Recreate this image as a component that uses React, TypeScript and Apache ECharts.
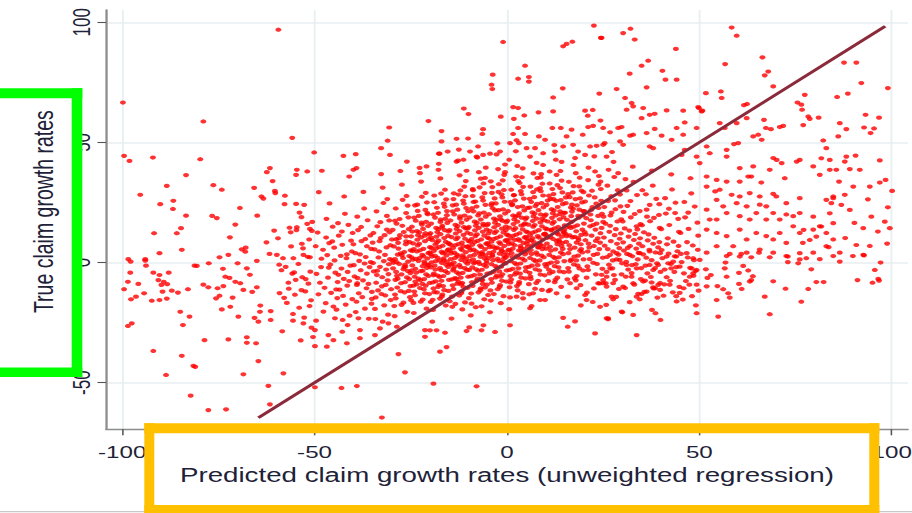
import React, { useEffect, useRef } from "react";
import * as echarts from "echarts";

// ---------- axis / text content ----------
const xTicks = [-100, -50, 0, 50, 100];
const yTicks = [-50, 0, 50, 100];
const xTitle = "Predicted claim growth rates (unweighted regression)";
const yTitle = "True claim growth rates";
const xRange = [-104.2, 104.2];
const yRange = [-69.4, 105.1];

// 45-degree reference line (y = x)
const fitLine = [
  [-64.6, -64.6],
  [98.3, 98.3],
];

// ---------- scatter points (read / estimated from the picture) ----------
const ptsUpperLeft = [
  [-59.4,96.9],[-99.8,66.6],[-78.9,58.7],[-55.8,51.9],[-99.5,44.4],[-98.1,42.3],[-92.0,43.7],[-79.7,43.0],[-50.1,45.8],[-61.6,39.3],[-62.4,37.6],[-54.6,38.6],[-51.9,37.9],[-54.8,36.5],[-83.4,36.4],[-60.9,33.9],[-76.3,32.2],[-74.1,30.3],[-88.4,31.9],[-65.7,31.1],[-60.3,29.8],[-60.2,28.9],[-95.3,28.2],[-63.8,27.5],[-57.7,27.8],[-90.1,24.3],[-86.7,25.7],[-86.8,22.3],[-54.8,24.4],[-52.7,24.0],[-83.4,19.5],[-76.6,19.4],[-75.4,18.5],[-64.9,19.5],[-53.4,18.9],[-70.6,15.8],[-56.5,14.5],[-54.6,14.7],[-56.2,12.6],[-51.9,16.1],[-51.2,14.0],[-50.7,13.2],[-91.7,12.2],[-85.8,12.2],[-84.7,14.3],[-72.0,10.5],[-60.5,13.3],[-53.3,7.8],[-90.3,3.9],[-84.5,5.3],[-68.9,5.5],[-68.0,4.5],[-61.7,3.6],[-59.8,3.2],[-74.7,2.2],[-72.4,3.2],[-52.9,3.2],[-51.2,2.2],[-55.5,1.8],[-94.0,1.4],[-98.4,1.4]
];

const ptsLowerLeft = [
  [-97.8,0.4],[-94.0,0.8],[-93.8,-1.3],[-97.9,-4.2],[-91.9,-4.2],[-90.3,-5.2],[-87.9,-4.2],[-98.5,-8.0],[-95.8,-8.9],[-99.5,-11.1],[-90.6,-7.3],[-89.2,-8.0],[-88.3,-9.0],[-89.8,-9.3],[-89.5,-12.1],[-87.1,-11.7],[-85.5,-12.5],[-94.3,-12.8],[-96.4,-14.2],[-97.7,-15.3],[-92.3,-15.9],[-90.3,-15.6],[-88.4,-15.0],[-82.9,-11.1],[-81.2,-1.3],[-80.6,-1.4],[-77.5,-0.3],[-78.9,-9.2],[-77.6,-10.3],[-75.2,-10.7],[-73.7,-9.8],[-74.7,-13.8],[-75.6,-14.9],[-74.1,-19.5],[-71.9,-18.4],[-84.9,-20.5],[-82.5,-22.5],[-84.2,-26.0],[-98.5,-26.4],[-97.5,-25.3],[-73.2,-5.9],[-72.1,-6.4],[-70.6,-8.0],[-69.3,-8.6],[-70.0,-0.3],[-67.6,-2.4],[-65.0,0.7],[-68.5,-11.4],[-66.2,-12.2],[-65.0,-10.3],[-69.8,-22.5],[-65.6,-23.0],[-64.6,-24.6],[-64.2,-20.5],[-61.4,-20.2],[-61.4,-23.9],[-78.6,-32.3],[-72.4,-32.0],[-67.6,-31.1],[-67.6,-33.4],[-65.2,-33.6],[-91.9,-36.8],[-84.5,-38.8],[-81.5,-43.0],[-81.0,-43.4],[-64.6,-41.0],[-88.6,-46.8],[-68.5,-46.5],[-58.1,-46.1],[-82.2,-55.4],[-77.6,-61.4],[-73.0,-61.1],[-62.0,-51.3],[-61.6,-59.0],
  [-59.2,-0.9],[-57.5,-1.8],[-55.8,-4.6],[-54.9,-7.2],[-53.2,-6.1],[-51.6,-8.8],[-56.7,-10.9],[-55.1,-13.4],[-52.4,-12.0],[-57.9,-14.7],[-54.0,-18.8],[-51.3,-18.1],[-55.6,-24.2],[-52.7,-22.9],[-50.8,-27.1],[-58.4,-28.6],[-53.6,-32.4],[-50.4,-31.0],
  [-58.6,-3.2],[-56.1,6.7],[-53.4,-11.5],[-51.8,2.4],[-57.2,-16.8],[-54.7,13.5],[-52.3,-6.9],[-59.5,10.1],[-55.6,-21.4],[-50.9,-15.7],[-53.9,20.8],[-57.8,24.3],[-51.4,9.6],[-56.8,-8.4],[-52.9,-25.3],[-58.2,1.8],[-54.2,-0.6],[-50.6,16.9],[-55.3,-4.1],[-59.1,-12.7],[-53.0,5.9],[-51.1,-3.8],
  [-71.3,-14.6],[-66.8,-5.1],[-62.5,8.4],[-69.4,22.7],[-73.8,-2.6],[-64.1,-17.9],[-67.9,6.2],[-63.3,26.6]
];

const ptsUpperMiddle = [
  [-1.0,91.8],[-3.7,78.2],[-4.0,74.0],[-3.8,72.2],[4.7,81.9],[2.9,76.5],[5.7,77.2],[5.7,75.3],[14.6,90.0],[15.5,91.0],[17.0,91.9],[22.6,98.6],[24.4,93.5],[14.5,72.5],[24.0,70.3],[12.0,68.7],[1.6,64.7],[2.9,64.3],[-11.2,64.1],[-10.0,61.8],[-1.6,60.7],[1.8,59.8],[4.5,61.2],[8.2,62.5],[12.0,62.9],[20.3,63.2],[22.3,63.5],[21.0,61.1],[-20.4,58.9],[-30.6,56.2],[-31.0,50.7],[-32.7,47.6],[-17.0,54.7],[-17.0,50.4],[-13.1,51.5],[-10.1,51.6],[-6.2,55.5],[-6.4,53.5],[2.9,56.0],[1.6,53.5],[4.7,53.5],[8.3,52.5],[9.9,51.1],[11.8,56.0],[14.0,56.0],[15.5,52.5],[16.8,55.3],[19.7,53.2],[21.1,56.4],[22.4,56.9],[24.3,59.1],[-48.1,38.2],[-42.5,44.4],[-39.3,45.1],[-39.9,38.6],[-39.1,39.3],[-41.0,35.8],[-30.4,44.8],[-26.0,42.0],[-20.9,40.0],[-22.6,37.2],[-17.8,38.6],[-15.4,46.2],[-17.7,45.3],[-13.1,42.0],[-11.3,42.8],[-7.9,44.1],[-6.2,44.8],[-4.4,45.3],[-9.6,46.2],[-1.8,46.2],[0.8,49.7],[3.1,49.7],[0.6,42.8],[5.1,47.6],[6.0,44.1],[9.4,45.5],[12.5,46.2],[14.6,48.3],[17.2,49.0],[18.5,46.2],[20.3,44.8],[21.6,48.3],[23.3,48.6],[25.0,49.0],[25.9,44.1]
];

const ptsLowerMiddle = [
  [-32.5,-64.5],[-19.1,-50.4],[-7.9,-51.5],[-49.9,-51.9],[-43.0,-52.2],[-39.0,-51.4],[-26.5,-45.7],[-28.2,-38.1],[-17.4,-37.1],[-15.7,-35.2],[22.9,-29.5],[0.8,-26.1],[-3.1,-28.9],[-6.6,-28.2],[-6.1,-26.1],[-10.5,-28.5],[-9.8,-27.0],[-21.3,-28.1],[-20.0,-28.2],[-18.3,-28.2],[-16.1,-29.2],[-21.3,-30.9],[14.6,-23.0],[17.7,-24.5],[15.8,-26.7],[26.3,-23.2],[-49.9,-28.1],[-49.6,-24.2],[-46.4,-30.2],[-46.8,-35.0],[-49.9,-34.8],[-45.1,-32.3],[-42.8,-28.8],[-41.6,-33.6],[-38.2,-31.5],[-38.2,-28.1],[-41.4,-26.0],[-38.6,-23.2],[-42.7,-23.9],[-44.7,-23.2],[-33.0,-27.4],[-32.3,-24.6],[-30.8,-25.3],[-28.6,-26.7],[-34.3,-30.2],[2.5,-14.2],[4.2,-14.9],[6.8,-12.8],[8.6,-15.6],[9.9,-15.6],[6.0,-19.0],[6.4,-18.1],[11.2,-11.4],[12.9,-12.8],[16.4,-8.6],[18.1,-10.7],[20.3,-13.5],[20.7,-15.6],[24.2,-18.4],[23.7,-8.6],[25.0,-7.3],[25.9,-10.0]
];

const ptsUpperRight = [
  [58.4,97.8],[59.7,94.4],[30.2,95.5],[32.1,97.3],[33.2,92.8],[24.6,93.5],[43.9,88.9],[36.7,84.0],[35.0,81.9],[31.9,78.6],[40.4,79.8],[41.2,76.1],[44.1,76.1],[56.7,82.6],[66.4,85.4],[67.9,79.5],[67.0,77.9],[69.2,73.3],[87.6,83.2],[90.8,83.2],[92.1,74.7],[99.0,72.6],[85.8,68.9],[88.6,70.3],[77.4,69.8],[75.5,66.6],[76.5,65.7],[76.7,63.6],[78.3,60.8],[78.7,59.8],[81.0,60.3],[77.0,57.2],[86.5,58.0],[88.2,55.5],[93.2,61.5],[96.7,60.3],[92.8,56.2],[95.4,55.8],[94.5,53.9],[82.2,50.8],[83.0,47.6],[86.1,52.5],[81.7,43.4],[83.9,42.7],[79.6,40.0],[81.3,36.5],[83.9,38.6],[85.6,38.6],[86.3,33.7],[87.8,42.0],[88.2,44.1],[90.6,44.5],[89.1,38.9],[91.7,38.6],[96.9,42.5],[94.3,31.6],[96.9,33.3],[98.4,34.4],[100.1,29.8],[90.0,31.6],[87.8,28.2],[84.8,26.8],[84.3,24.7],[86.9,24.0],[89.1,21.9],[94.7,19.1],[98.2,17.0],[99.5,14.3],[99.0,23.0],[92.6,14.3],[90.8,7.3],[92.6,3.2],[94.3,6.9],[84.8,16.4],[81.7,15.0],[83.9,20.5],[79.6,19.1],[77.1,13.6],[78.7,9.4],[76.1,3.9],[80.4,10.8],
  [51.7,70.5],[55.6,71.2],[55.8,68.5],[49.9,64.3],[50.8,63.2],[61.6,65.5],[62.4,66.0],[56.6,56.0],[55.3,58.0],[59.7,58.0],[66.8,59.4],[67.3,56.0],[68.6,55.5],[70.9,56.4],[71.8,56.9],[62.3,60.1],[64.0,52.5],[65.3,53.2],[66.2,51.1],[59.0,49.3],[60.1,49.7],[57.1,46.9],[51.9,48.3],[52.7,45.5],[57.1,44.1],[60.5,39.3],[64.0,40.0],[69.2,43.5],[71.4,41.4],[70.1,42.7],[75.3,42.0],[76.1,42.7],[68.3,38.6],[72.2,35.1],
  [51.9,35.8],[54.5,34.4],[57.1,33.7],[60.5,33.7],[62.7,35.8],[63.5,35.8],[66.1,33.3],[51.9,31.6],[54.1,29.6],[55.3,30.3],[58.4,28.2],[60.5,27.5],[63.1,28.9],[65.7,27.5],[69.2,28.6],[70.0,27.5],[72.6,24.7],[76.1,26.8],[83.0,26.1],[84.8,27.5],[54.5,26.1],[56.2,23.4],[59.7,24.7],[62.3,23.4],[65.7,24.1],[67.4,23.4],[69.2,20.6],[72.6,20.0],[74.4,19.3],[76.1,20.6],[51.9,22.0],[52.7,17.9],[54.5,17.9],[57.1,20.6],[60.5,19.3],[63.1,17.9],[64.8,20.6],[67.4,17.9],[70.9,17.9],[74.4,15.1],[76.1,12.3],[79.6,13.7],[81.3,15.1],[83.0,12.3],[84.8,9.6],[51.9,13.7],[54.5,12.3],[57.1,11.0],[60.5,13.7],[62.3,9.6],[64.8,12.3],[67.4,11.0],[69.2,9.6],[70.9,12.3],[72.6,8.2],[76.9,8.2],[79.6,4.1],[83.0,6.8],[54.5,6.8],[58.8,6.8],[62.3,4.1],[65.7,5.4],[69.2,4.1],[72.6,2.7],[51.9,4.1],[57.1,2.7],[76.1,1.3],[84.8,2.7],[86.5,4.1],
  [28.5,72.2],[30.7,68.5],[32.4,66.4],[32.8,65.0],[36.3,72.9],[31.1,63.6],[35.4,64.3],[35.0,60.1],[37.1,61.5],[38.4,61.9],[41.5,63.3],[45.8,63.2],[49.7,64.7],[50.6,62.9],[28.9,56.0],[29.8,56.4],[32.0,52.8],[32.8,53.2],[36.3,53.9],[38.4,55.6],[40.2,52.8],[42.8,51.1],[44.1,56.0],[46.2,58.3],[45.8,53.2],[49.3,56.0],[25.0,56.0],[26.8,54.2],[25.4,49.7],[29.4,50.4],[30.2,49.0],[37.1,48.3],[38.0,47.6],[45.4,44.8],[46.2,46.9],[49.3,44.1],[50.1,41.4]
];

const ptsLowerRight = [
  [25.9,-23.2],[30.0,-20.7],[32.8,-21.8],[33.7,-30.2],[37.7,-19.7],[38.6,-21.1],[39.9,-23.9],[49.3,-21.1],[54.9,-22.5],[68.3,-21.5],[76.5,-16.3],[67.0,-14.2],[54.5,-15.6],[57.5,-12.8],[56.2,-11.1],[61.0,-11.0],[51.9,-9.9],[49.3,-9.2],[63.1,-7.9],[60.3,-8.9],[78.3,-11.0],[80.4,-8.1],[82.3,-8.1],[91.1,-7.3],[95.0,-8.4],[96.5,-6.8],[96.7,-7.5],[89.9,2.7],[92.8,3.0],[97.1,0.0],[86.5,0.4],[79.1,-2.8],[81.3,1.4],[77.8,1.8],[75.7,-0.3],[73.0,2.5],[73.0,0.2],[68.3,2.2],[65.5,4.1],[63.5,2.2],[60.5,2.5],[61.4,-1.4],[62.7,-3.3],[60.3,-4.3],[63.5,-7.3],[56.6,-2.4],[57.1,-5.9],[53.0,-5.2],[51.7,-2.8],[57.9,3.6],[56.8,0.0],
  [26.3,-23.6],[27.6,-15.3],[27.2,-14.2],[29.8,-20.4],[33.7,-14.2],[35.0,-13.1],[36.3,-12.1],[34.5,-15.3],[38.5,-10.7],[39.3,-9.3],[39.8,-11.4],[35.4,-7.9],[37.6,-8.3],[38.0,-10.3],[42.3,-9.2],[44.9,-12.6],[44.0,-14.0],[47.5,-5.9],[48.4,-4.5],[48.0,-2.4],[49.3,-3.1],[44.9,-1.7],[42.7,-2.4],[43.2,0.4],[44.0,2.5],[41.9,-0.3],[41.5,2.5],[37.1,-1.0],[38.0,-3.1],[39.3,-1.0],[33.7,-2.4],[32.4,-5.9],[31.1,-1.0],[29.3,1.1],[26.8,-2.4],[25.9,-5.9],[25.0,-8.6],[27.6,-8.6],[30.2,-10.0],[32.8,-8.6],[26.8,3.2],[28.5,3.9],[31.9,3.2],[34.5,3.9],[37.1,4.6],[39.8,3.9],[46.7,3.9],[48.4,1.8],[50.1,1.1],
  [52.1,-6.4],[54.7,-9.8],[57.9,-14.6],[60.9,3.6],[63.9,-5.7],[69.2,-7.8],[72.4,-10.9],[83.6,6.4],[87.9,10.2],[90.3,16.5],[93.8,26.3],[96.4,12.9],[98.8,7.9],[95.6,-3.1]
];

// dense core (estimated)
const coreWest = [
  [-49.2,12.5],[-47.8,5.3],[-46.3,-2.1],[-48.6,-8.4],[-45.7,-12.6],[-47.1,-16.9],[-49.5,-4.7],[-46.9,18.2],[-45.4,8.8],[-48.2,1.6],[-46.5,-6.3],[-47.7,-20.4],[-45.9,-0.8],[-49.0,-13.2],[-46.1,24.6],[-48.9,29.3],[-45.3,14.9],[-47.4,-10.5],[-49.7,6.8],[-46.7,3.1],[-45.1,-18.3],[-48.3,-1.9],[-47.0,10.4],
  [-44.6,-4.2],[-43.2,2.8],[-41.5,-9.6],[-42.8,7.4],[-40.7,-1.3],[-44.1,-14.8],[-43.7,11.2],[-41.9,-17.5],[-40.3,4.6],[-42.4,-6.8],[-44.8,0.9],[-41.2,15.7],[-43.5,-11.3],[-40.9,-22.1],[-42.1,20.3],[-44.3,-19.6],[-41.7,1.8],[-43.0,-2.5],[-40.5,9.1],[-42.6,-13.9],[-44.9,6.2],[-41.0,-7.7],[-43.9,16.4],[-40.2,-15.2],[-42.3,27.5],[-41.4,-3.9],[-44.0,-8.1],[-42.9,12.9],
  [-39.6,-5.8],[-38.2,3.4],[-36.5,-10.7],[-37.8,8.9],[-35.4,0.2],[-39.1,-16.3],[-38.7,13.5],[-36.9,-19.2],[-35.3,5.7],[-37.4,-7.4],[-39.8,-1.1],[-36.2,17.6],[-38.5,-12.8],[-35.9,-23.4],[-37.1,22.5],[-39.3,-20.6],[-36.7,2.3],[-38.0,-3.2],[-35.5,11.3],[-37.6,-14.4],[-39.9,7.6],[-36.0,-8.9],[-38.9,19.1],[-35.2,-17.1],[-37.3,29.4],[-36.4,-4.6],[-39.0,-9.3],[-37.9,14.8],[-35.7,-1.9],[-38.4,0.7],[-36.8,9.8],[-39.4,3.9],[-35.1,-12.2],[-37.0,-0.4],[-38.8,-6.5],
  [-34.6,-3.7],[-33.2,4.6],[-31.5,-9.3],[-32.8,10.2],[-30.4,1.4],[-34.1,-14.5],[-33.7,15.1],[-31.9,-17.8],[-30.3,7.2],[-32.4,-6.1],[-34.8,-0.2],[-31.2,19.4],[-33.5,-11.6],[-30.9,-21.7],[-32.1,24.8],[-34.3,-19.3],[-31.7,3.2],[-33.0,-1.8],[-30.5,12.6],[-32.6,-13.1],[-34.9,8.3],[-31.0,-7.4],[-33.9,21.3],[-30.2,-15.6],[-32.3,31.2],[-31.4,-2.9],[-34.0,-8.4],[-32.9,16.8],[-30.7,-0.7],[-33.4,2.1],[-31.8,11.4],[-34.4,5.5],[-30.1,-11.1],[-32.0,0.6],[-33.8,-5.2],[-31.3,6.3],[-30.8,-4.8],[-34.7,12.3],[-32.5,-9.9],[-33.1,8.9],[-31.6,-13.7],[-30.6,17.5],[-34.2,-23.5],[-32.7,36.8],[-31.1,26.4]
];

const coreWestMid = [
  [-29.6,-2.4],[-28.2,5.8],[-26.5,-8.2],[-27.8,11.4],[-25.4,2.7],[-29.1,-13.3],[-28.7,16.2],[-26.9,-16.7],[-25.3,8.5],[-27.4,-4.9],[-29.8,0.9],[-26.2,20.6],[-28.5,-10.4],[-25.9,-20.5],[-27.1,26.1],[-29.3,-18.1],[-26.7,4.4],[-28.0,-0.6],[-25.5,13.9],[-27.6,-11.9],[-29.9,9.6],[-26.0,-6.2],[-28.9,22.5],[-25.2,-14.4],[-27.3,32.4],[-26.4,-1.7],[-29.0,-7.2],[-27.9,18.1],[-25.7,0.4],[-28.4,3.3],[-26.8,12.7],[-29.4,6.7],[-25.1,-9.8],[-27.0,1.9],[-28.8,-3.9],[-26.3,7.6],[-25.8,-3.5],[-29.7,13.6],[-27.5,-8.6],[-28.1,10.1],[-26.6,-12.4],[-25.6,18.8],[-29.2,-22.3],[-27.7,38.1],[-26.1,27.7],[-28.6,-5.5],[-25.0,5.1],[-27.2,15.3],[-29.5,-0.1],[-26.9,-2.8],[-28.3,8.2],[-25.4,-6.9],[-27.6,3.8],[-28.9,-14.9],[-26.2,10.9],[-25.8,23.7],[-29.1,17.4],[-27.4,-17.6],[-28.7,0.2],[-26.5,-0.9],
  [-24.6,-1.2],[-23.2,7.1],[-21.5,-6.9],[-22.8,12.6],[-20.4,3.9],[-24.1,-12.1],[-23.7,17.4],[-21.9,-15.4],[-20.3,9.8],[-22.4,-3.6],[-24.8,2.2],[-21.2,21.9],[-23.5,-9.1],[-20.9,-19.2],[-22.1,27.4],[-24.3,-16.8],[-21.7,5.7],[-23.0,0.7],[-20.5,15.2],[-22.6,-10.6],[-24.9,10.9],[-21.0,-4.9],[-23.9,23.8],[-20.2,-13.1],[-22.3,33.7],[-21.4,-0.4],[-24.0,-5.9],[-22.9,19.4],[-20.7,1.7],[-23.4,4.6],[-21.8,14.0],[-24.4,8.0],[-20.1,-8.5],[-22.0,3.2],[-23.8,-2.6],[-21.3,8.9],[-20.8,-2.2],[-24.7,14.9],[-22.5,-7.3],[-23.1,11.4],[-21.6,-11.1],[-20.6,20.1],[-24.2,-21.0],[-22.7,39.4],[-21.1,29.0],[-23.6,-4.2],[-20.0,6.4],[-22.2,16.6],[-24.5,1.2],[-21.9,-1.5],[-23.3,9.5],[-20.4,-5.6],[-22.6,5.1],[-23.9,-13.6],[-21.2,12.2],[-20.8,25.0],[-24.1,18.7],[-22.4,-16.3],[-23.7,1.5],[-21.5,0.4],[-20.2,11.6],[-24.6,4.8],[-22.0,-8.9],[-23.4,13.1],[-21.0,16.9],[-20.6,-0.9],[-24.3,-9.6],[-22.8,7.8],[-21.7,2.6],[-23.0,-6.7],[-20.1,4.2],[-22.3,10.5],[-24.8,-3.3],[-21.3,-12.8],[-23.2,21.5],
  [-19.6,0.1],[-18.2,8.4],[-16.5,-5.6],[-17.8,13.9],[-15.4,5.2],[-19.1,-10.8],[-18.7,18.7],[-16.9,-14.1],[-15.3,11.1],[-17.4,-2.3],[-19.8,3.5],[-16.2,23.2],[-18.5,-7.8],[-15.9,-17.9],[-17.1,28.7],[-19.3,-15.5],[-16.7,7.0],[-18.0,2.0],[-15.5,16.5],[-17.6,-9.3],[-19.9,12.2],[-16.0,-3.6],[-18.9,25.1],[-15.2,-11.8],[-17.3,35.0],[-16.4,0.9],[-19.0,-4.6],[-17.9,20.7],[-15.7,3.0],[-18.4,5.9],[-16.8,15.3],[-19.4,9.3],[-15.1,-7.2],[-17.0,4.5],[-18.8,-1.3],[-16.3,10.2],[-15.8,-0.9],[-19.7,16.2],[-17.5,-6.0],[-18.1,12.7],[-16.6,-9.8],[-15.6,21.4],[-19.2,-19.7],[-17.7,41.1],[-16.1,30.3],[-18.6,-2.9],[-15.0,7.7],[-17.2,17.9],[-19.5,2.5],[-16.9,-0.2],[-18.3,10.8],[-15.4,-4.3],[-17.6,6.4],[-18.9,-12.3],[-16.2,13.5],[-15.8,26.3],[-19.1,20.0],[-17.4,-15.0],[-18.7,2.8],[-16.5,1.7],[-15.2,12.9],[-19.6,6.1],[-17.0,-7.6],[-18.4,14.4],[-16.0,18.2],[-15.6,0.4],[-19.3,-8.3],[-17.8,9.1],[-16.7,3.9],[-18.0,-5.4],[-15.1,5.5],[-17.3,11.8],[-19.8,-2.0],[-16.3,-11.5],[-18.2,22.8],[-15.9,8.6],[-17.1,-3.2],[-19.0,4.8],[-16.4,24.5],[-18.5,0.6],[-15.3,-1.8],[-17.9,-10.1],[-16.8,-13.3],[-19.4,-24.6],[-17.5,45.3]
];

const coreCenter = [
  [-14.6,1.4],[-13.2,9.7],[-11.5,-4.3],[-12.8,15.2],[-10.4,6.5],[-14.1,-9.5],[-13.7,20.0],[-11.9,-12.8],[-10.3,12.4],[-12.4,-1.0],[-14.8,4.8],[-11.2,24.5],[-13.5,-6.5],[-10.9,-16.6],[-12.1,30.0],[-14.3,-14.2],[-11.7,8.3],[-13.0,3.3],[-10.5,17.8],[-12.6,-8.0],[-14.9,13.5],[-11.0,-2.3],[-13.9,26.4],[-10.2,-10.5],[-12.3,36.3],[-11.4,2.2],[-14.0,-3.3],[-12.9,22.0],[-10.7,4.3],[-13.4,7.2],[-11.8,16.6],[-14.4,10.6],[-10.1,-5.9],[-12.0,5.8],[-13.8,0.0],[-11.3,11.5],[-10.8,0.4],[-14.7,17.5],[-12.5,-4.7],[-13.1,14.0],[-11.6,-8.5],[-10.6,22.7],[-14.2,-18.4],[-12.7,42.4],[-11.1,31.6],[-13.6,-1.6],[-10.0,9.0],[-12.2,19.2],[-14.5,3.8],[-11.9,1.1],[-13.3,12.1],[-10.4,-3.0],[-12.6,7.7],[-13.9,-11.0],[-11.2,14.8],[-10.8,27.6],[-14.1,21.3],[-12.4,-13.7],[-13.7,4.1],[-11.5,3.0],[-10.2,14.2],[-14.6,7.4],[-12.0,-6.3],[-13.4,15.7],[-11.0,19.5],[-10.6,1.7],[-14.3,-7.0],[-12.8,10.4],[-11.7,5.2],[-13.0,-4.1],[-10.1,6.8],[-12.3,13.1],[-14.8,-0.7],[-11.3,-10.2],[-13.2,24.1],[-10.9,9.9],[-12.1,-1.9],[-14.0,6.1],[-11.4,25.8],[-13.5,1.9],[-10.3,-0.5],[-12.9,-8.8],[-11.8,-12.0],[-14.4,-23.3],[-12.5,47.0],[-10.7,33.9],[-13.8,28.8],[-11.6,-19.5],[-14.9,-16.1],[-10.5,38.2],
  [-9.6,2.7],[-8.2,11.0],[-6.5,-3.0],[-7.8,16.5],[-5.4,7.8],[-9.1,-8.2],[-8.7,21.3],[-6.9,-11.5],[-5.3,13.7],[-7.4,0.3],[-9.8,6.1],[-6.2,25.8],[-8.5,-5.2],[-5.9,-15.3],[-7.1,31.3],[-9.3,-12.9],[-6.7,9.6],[-8.0,4.6],[-5.5,19.1],[-7.6,-6.7],[-9.9,14.8],[-6.0,-1.0],[-8.9,27.7],[-5.2,-9.2],[-7.3,37.6],[-6.4,3.5],[-9.0,-2.0],[-7.9,23.3],[-5.7,5.6],[-8.4,8.5],[-6.8,17.9],[-9.4,11.9],[-5.1,-4.6],[-7.0,7.1],[-8.8,1.3],[-6.3,12.8],[-5.8,1.7],[-9.7,18.8],[-7.5,-3.4],[-8.1,15.3],[-6.6,-7.2],[-5.6,24.0],[-9.2,-17.1],[-7.7,43.7],[-6.1,32.9],[-8.6,-0.3],[-5.0,10.3],[-7.2,20.5],[-9.5,5.1],[-6.9,2.4],[-8.3,13.4],[-5.4,-1.7],[-7.6,9.0],[-8.9,-9.7],[-6.2,16.1],[-5.8,28.9],[-9.1,22.6],[-7.4,-12.4],[-8.7,5.4],[-6.5,4.3],[-5.2,15.5],[-9.6,8.7],[-7.0,-5.0],[-8.4,17.0],[-6.0,20.8],[-5.6,3.0],[-9.3,-5.7],[-7.8,11.7],[-6.7,6.5],[-8.0,-2.8],[-5.1,8.1],[-7.3,14.4],[-9.8,0.6],[-6.3,-8.9],[-8.2,25.4],[-5.9,11.2],[-7.1,-0.6],[-9.0,7.4],[-6.4,27.1],[-8.5,3.2],[-5.3,0.8],[-7.9,-7.5],[-6.8,-10.7],[-9.4,-22.0],[-7.5,48.3],[-5.7,35.2],[-8.8,30.1],[-6.6,-18.2],[-9.9,-14.8],[-5.5,39.5],
  [-4.6,4.0],[-3.2,12.3],[-1.5,-1.7],[-2.8,17.8],[-0.4,9.1],[-4.1,-6.9],[-3.7,22.6],[-1.9,-10.2],[-0.3,15.0],[-2.4,1.6],[-4.8,7.4],[-1.2,27.1],[-3.5,-3.9],[-0.9,-14.0],[-2.1,32.6],[-4.3,-11.6],[-1.7,10.9],[-3.0,5.9],[-0.5,20.4],[-2.6,-5.4],[-4.9,16.1],[-1.0,0.3],[-3.9,29.0],[-0.2,-7.9],[-2.3,38.9],[-1.4,4.8],[-4.0,-0.7],[-2.9,24.6],[-0.7,6.9],[-3.4,9.8],[-1.8,19.2],[-4.4,13.2],[-0.1,-3.3],[-2.0,8.4],[-3.8,2.6],[-1.3,14.1],[-0.8,3.0],[-4.7,20.1],[-2.5,-2.1],[-3.1,16.6],[-1.6,-5.9],[-0.6,25.3],[-4.2,-15.8],[-2.7,45.0],[-1.1,34.2],[-3.6,1.0],[0.0,11.6],[-2.2,21.8],[-4.5,6.4],[-1.9,3.7],[-3.3,14.7],[-0.4,-0.4],[-2.6,10.3],[-3.9,-8.4],[-1.2,17.4],[-0.8,30.2],[-4.1,23.9],[-2.4,-11.1],[-3.7,6.7],[-1.5,5.6],[-0.2,16.8],[-4.6,10.0],[-2.0,-3.7],[-3.4,18.3],[-1.0,22.1],[-0.6,4.3],[-4.3,-4.4],[-2.8,13.0],[-1.7,7.8],[-3.0,-1.5],[-0.1,9.4],[-2.3,15.7],[-4.8,1.9],[-1.3,-7.6],[-3.2,26.7],[-0.9,12.5],[-2.1,0.7],[-4.0,8.7],[-1.4,28.4],[-3.5,4.5],[-0.3,2.1],[-2.9,-6.2],[-1.8,-9.4],[-4.4,-20.7],[-2.5,49.6],[-0.7,36.5],[-3.8,31.4],[-1.6,-16.9],[-4.9,-13.5],[-0.5,40.8],
  [0.4,5.3],[1.8,13.6],[3.5,-0.4],[2.2,19.1],[4.6,10.4],[0.9,-5.6],[1.3,23.9],[3.1,-8.9],[4.7,16.3],[2.6,2.9],[0.2,8.7],[3.8,28.4],[1.5,-2.6],[4.1,-12.7],[2.9,33.9],[0.7,-10.3],[3.3,12.2],[2.0,7.2],[4.5,21.7],[2.4,-4.1],[0.1,17.4],[4.0,1.6],[1.1,30.3],[4.8,-6.6],[2.7,40.2],[3.6,6.1],[1.0,0.6],[2.1,25.9],[4.3,8.2],[1.6,11.1],[3.2,20.5],[0.6,14.5],[4.9,-2.0],[3.0,9.7],[1.2,3.9],[3.7,15.4],[4.2,4.3],[0.3,21.4],[2.5,-0.8],[1.9,17.9],[3.4,-4.6],[4.4,26.6],[0.8,-14.5],[2.3,46.3],[3.9,35.5],[1.4,2.3],[5.0,12.9],[2.8,23.1],[0.5,7.7],[3.1,5.0],[1.7,16.0],[4.6,0.9],[2.4,11.6],[1.1,-7.1],[3.8,18.7],[4.2,31.5],[0.9,25.2],[2.6,-9.8],[1.3,8.0],[3.5,6.9],[4.8,18.1],[0.4,11.3],[3.0,-2.4],[1.6,19.6],[4.0,23.4],[4.4,5.6],[0.7,-3.1],[2.2,14.3],[3.3,9.1],[2.0,-0.2],[4.9,10.7],[2.7,17.0],[0.2,3.2],[3.7,-6.3],[1.8,28.0],[4.1,13.8],[2.9,2.0],[1.0,10.0],[3.6,29.7],[1.5,5.8],[4.7,3.4],[2.1,-4.9],[3.2,-8.1],[0.6,-19.4],[2.5,50.9]
];

const coreEastMid = [
  [5.4,6.6],[6.8,14.9],[8.5,0.9],[7.2,20.4],[9.6,11.7],[5.9,-4.3],[6.3,25.2],[8.1,-7.6],[9.7,17.6],[7.6,4.2],[5.2,10.0],[8.8,29.7],[6.5,-1.3],[9.1,-11.4],[7.9,35.2],[5.7,-9.0],[8.3,13.5],[7.0,8.5],[9.5,23.0],[7.4,-2.8],[5.1,18.7],[9.0,2.9],[6.1,31.6],[9.8,-5.3],[7.7,41.5],[8.6,7.4],[6.0,1.9],[7.1,27.2],[9.3,9.5],[6.6,12.4],[8.2,21.8],[5.6,15.8],[9.9,-0.7],[8.0,11.0],[6.2,5.2],[8.7,16.7],[9.2,5.6],[5.3,22.7],[7.5,0.5],[6.9,19.2],[8.4,-3.3],[9.4,27.9],[5.8,-13.2],[7.3,47.6],[8.9,36.8],[6.4,3.6],[10.0,14.2],[7.8,24.4],[5.5,9.0],[8.1,6.3],[6.7,17.3],[9.6,2.2],[7.4,12.9],[6.1,-5.8],[8.8,20.0],[9.2,32.8],[5.9,26.5],[7.6,-8.5],[6.3,9.3],[8.5,8.2],[9.8,19.4],[5.4,12.6],[8.0,-1.1],[6.6,20.9],[9.0,24.7],[9.4,6.9],[5.7,-1.8],[7.2,15.6],[8.3,10.4],[7.0,1.1],[9.9,12.0],[7.7,18.3],[5.2,4.5],[8.7,-5.0],[6.8,29.3],[9.1,15.1],[7.9,3.3],[6.0,11.3],[8.6,31.0],[6.5,7.1],
  [10.4,7.9],[11.8,16.2],[13.5,2.2],[12.2,21.7],[14.6,13.0],[10.9,-3.0],[11.3,26.5],[13.1,-6.3],[14.7,18.9],[12.6,5.5],[10.2,11.3],[13.8,31.0],[11.5,0.0],[14.1,-10.1],[12.9,36.5],[10.7,-7.7],[13.3,14.8],[12.0,9.8],[14.5,24.3],[12.4,-1.5],[10.1,20.0],[14.0,4.2],[11.1,32.9],[14.8,-4.0],[12.7,42.8],[13.6,8.7],[11.0,3.2],[12.1,28.5],[14.3,10.8],[11.6,13.7],[13.2,23.1],[10.6,17.1],[14.9,0.6],[13.0,12.3],[11.2,6.5],[13.7,18.0],[14.2,6.9],[10.3,24.0],[12.5,1.8],[11.9,20.5],[13.4,-2.0],[14.4,29.2],[10.8,-11.9],[12.3,48.9],[13.9,38.1],[11.4,4.9],[15.0,15.5],[12.8,25.7],[10.5,10.3],[13.1,7.6],[11.7,18.6],[14.6,3.5],[12.4,14.2],[11.1,-4.5],[13.8,21.3],[14.2,34.1],[10.9,27.8],[12.6,-7.2],[11.3,10.6],[13.5,9.5],[14.8,20.7],[10.4,13.9],[13.0,0.2],[11.6,22.2],[14.0,26.0],[14.4,8.2],[10.7,-0.5],[12.2,16.9],[13.3,11.7],[12.0,2.4],[14.9,13.3],[12.7,19.6],[10.2,5.8],[13.7,-3.7],[11.8,30.6],
  [15.4,8.6],[16.8,16.9],[18.5,2.9],[17.2,22.4],[19.6,13.7],[15.9,-2.3],[16.3,27.2],[18.1,-5.6],[19.7,19.6],[17.6,6.2],[15.2,12.0],[18.8,31.7],[16.5,0.7],[19.1,-9.4],[17.9,37.2],[15.7,-7.0],[18.3,15.5],[17.0,10.5],[19.5,25.0],[17.4,-0.8],[15.1,20.7],[19.0,4.9],[16.1,33.6],[19.8,-3.3],[17.7,43.5],[18.6,9.4],[16.0,3.9],[17.1,29.2],[19.3,11.5],[16.6,14.4],[18.2,23.8],[15.6,17.8],[19.9,1.3],[18.0,13.0],[16.2,7.2],[18.7,18.7],[19.2,7.6],[15.3,24.7],[17.5,2.5],[16.9,21.2],[18.4,-1.3],[19.4,29.9],[15.8,-14.2],[17.3,40.6],[18.9,35.3],[16.4,5.6],[20.0,16.2],[17.8,26.4],[15.5,11.0],[18.1,8.3],[16.7,19.3],[19.6,4.2],[17.4,14.9],[16.1,-3.8],[18.8,22.0],[19.2,-17.8],[15.9,28.5],[17.6,-6.5],[16.3,11.3],[18.5,10.2],[19.8,21.4],[15.4,14.6],[18.0,0.9],[16.6,22.9],[19.0,26.7]
];

const coreEast = [
  [20.4,9.3],[21.8,17.6],[23.5,3.6],[22.2,23.1],[24.6,14.4],[20.9,-1.6],[21.3,27.9],[23.1,-4.9],[24.7,20.3],[22.6,6.9],[20.2,12.7],[23.8,32.4],[21.5,1.4],[24.1,-8.7],[22.9,37.9],[20.7,-6.3],[23.3,16.2],[22.0,11.2],[24.5,25.7],[22.4,-0.1],[20.1,21.4],[24.0,5.6],[21.1,34.3],[24.8,-2.6],[22.7,44.2],[23.6,10.1],[21.0,4.6],[22.1,29.9],[24.3,12.2],[21.6,15.1],[23.2,24.5],[20.6,18.5],[24.9,2.0],[23.0,13.7],[21.2,7.9],[23.7,19.4],[24.2,8.3],[20.3,25.4],[22.5,3.2],[21.9,21.9],[23.4,-0.6],[24.4,30.6],[20.8,-12.5],[22.3,-16.4],[23.9,36.0],[21.4,6.3],[25.0,16.9],[22.8,27.1],[20.5,11.7],[23.1,9.0],[21.7,20.0],[24.6,-5.1],[22.4,15.6],[21.1,-3.1],[23.8,22.7],
  [25.4,7.0],[26.8,15.3],[28.5,1.3],[27.2,20.8],[29.6,12.1],[25.9,-3.9],[26.3,25.6],[28.1,-7.2],[29.7,18.0],[27.6,4.6],[25.2,10.4],[28.8,30.1],[26.5,-0.9],[29.1,-11.0],[27.9,35.6],[25.7,-8.6],[28.3,13.9],[27.0,8.9],[29.5,23.4],[27.4,-2.4],[25.1,19.1],[29.0,3.3],[26.1,32.0],[29.8,-4.9],[27.7,41.9],[28.6,7.8],[26.0,2.3],[27.1,27.6],[29.3,9.9],[26.6,12.8],[28.2,22.2],[25.6,16.2],[29.9,-0.3],[28.0,11.4],[26.2,5.6],[28.7,17.1],[29.2,6.0],[25.3,23.1],[27.5,0.9],[26.9,19.6],[28.4,-14.3],[29.4,28.3],[25.8,-17.6],[27.3,46.0],[28.9,37.2],
  [30.4,5.0],[31.8,13.3],[33.5,-0.7],[32.2,18.8],[34.6,10.1],[30.9,-5.9],[31.3,23.6],[33.1,-9.2],[34.7,16.0],[32.6,2.6],[30.2,8.4],[33.8,28.1],[31.5,-2.9],[34.1,-13.0],[32.9,33.6],[30.7,-10.6],[33.3,11.9],[32.0,6.9],[34.5,21.4],[32.4,-4.4],[30.1,17.1],[34.0,1.3],[31.1,30.0],[34.8,-6.9],[32.7,39.9],[33.6,5.8],[31.0,0.3],[32.1,25.6],[34.3,7.9],[31.6,10.8],[33.2,20.2],[30.6,14.2],[34.9,-2.3],[33.0,9.4],[31.2,3.6],[33.7,15.1],[34.2,4.0],[30.3,21.1],[32.5,-1.1],[31.9,-16.5],
  [35.4,3.4],[36.8,11.7],[38.5,-2.3],[37.2,17.2],[39.6,8.5],[35.9,-7.5],[36.3,22.0],[38.1,-10.8],[39.7,14.4],[37.6,1.0],[35.2,6.8],[38.8,26.5],[36.5,-4.5],[39.1,-14.6],[37.9,32.0],[35.7,-12.2],[38.3,10.3],[37.0,5.3],[39.5,19.8],[37.4,-6.0],[35.1,15.5],[39.0,-0.3],[36.1,28.4],[39.8,-8.5],[37.7,38.3],[38.6,4.2],[36.0,-1.3],[37.1,24.0],[39.3,6.3],[36.6,9.2],[38.2,18.6],[35.6,12.6],[39.9,-3.9],[38.0,7.8],[36.2,2.0],
  [40.4,1.8],[41.8,10.1],[43.5,-3.9],[42.2,15.6],[44.6,6.9],[40.9,-9.1],[41.3,20.4],[43.1,-12.4],[44.7,12.8],[42.6,-0.6],[40.2,5.2],[43.8,24.9],[41.5,-6.1],[44.1,-16.2],[42.9,30.4],[40.7,-13.8],[43.3,8.7],[42.0,3.7],[44.5,18.2],[42.4,-7.6],[40.1,13.9],[44.0,-1.9],[41.1,26.8],[44.8,-10.1],[42.7,36.7],[43.6,2.6],[41.0,-2.9],[42.1,22.4],[44.3,4.7],[41.6,7.6],
  [45.4,0.2],[46.8,8.5],[48.5,-5.5],[47.2,14.0],[49.6,5.3],[45.9,-10.7],[46.3,18.8],[48.1,-14.0],[49.7,11.2],[47.6,-2.2],[45.2,3.6],[48.8,23.3],[46.5,-7.7],[49.1,-17.8],[47.9,28.8],[45.7,-15.4],[48.3,7.1],[47.0,2.1],[49.5,16.6],[47.4,-9.2],[45.1,12.3],[49.0,-3.5],[46.1,25.2],[49.8,-11.7],[47.7,35.1],[48.6,1.0],[46.0,-4.5],[47.1,20.8]
];

// extra points in the most crowded part of the cloud
const coreDensest = [
  [-27.3,3.1],[-25.1,-4.4],[-22.7,1.9],[-20.3,-1.1],[-18.6,7.5],[-16.1,4.2],[-13.9,-2.6],[-11.4,6.9],[-9.2,9.8],[-7.1,3.7],[-4.8,12.1],[-2.6,6.2],[-0.3,13.5],[2.1,9.4],[4.4,15.8],[6.7,10.1],[9.1,18.2],[11.5,13.4],[13.8,20.1],[16.2,15.2],[18.5,19.4],[-26.2,8.8],[-23.8,-7.9],[-21.4,11.2],[-19.1,-5.3],[-16.9,14.6],[-14.5,-0.8],[-12.2,18.3],[-9.8,-3.1],[-7.5,19.6],[-5.3,-0.2],[-3.1,21.7],[-0.8,1.7],[1.4,24.2],[3.7,4.8],[5.9,22.9],[8.2,6.4],[10.6,25.8],[12.9,8.9],[15.3,27.1],[17.6,10.7],[19.9,29.3],[-28.4,-6.7],[-24.6,12.9],[-21.1,-9.6],[-17.3,16.9],[-13.2,-6.8],[-10.1,21.4],[-6.4,-7.3],[-3.9,24.6],[-1.2,-4.9],[1.8,28.1],[4.9,-3.6],[7.8,30.4],[10.2,-1.7],[13.1,32.2],[16.7,1.2],[19.3,5.6],[-29.1,1.4],[-26.7,-1.9],[-24.2,5.6],[-21.9,-3.4],[-19.6,10.3],[-17.5,0.9],[-15.2,8.1],[-12.8,2.6],[-10.7,14.2],[-8.3,0.1],[-6.1,15.4],[-3.8,3.2],[-1.6,17.9],[0.7,5.1],[2.9,19.6],[5.2,7.8],[7.4,23.5],[9.8,11.9],[12.1,26.4],[14.5,5.7],[16.9,24.1],[18.8,-2.4],[-25.5,-11.8],[-22.1,15.8],[-18.2,-12.4],[-15.6,19.7],[-11.9,-9.1],[-8.7,25.2],[-5.7,-10.4],[-2.2,29.4],[0.9,-8.3],[3.3,33.1],[6.2,-6.8],[8.8,35.4],[11.9,-3.9],[14.8,12.3],[17.3,31.8],[-28.8,9.7],[-20.7,20.6],[-14.1,23.8],[-8.9,30.6],[-4.2,33.8],[-0.5,37.6],[4.1,39.2],[9.4,40.6],[14.2,41.9],[-23.3,24.1],[-18.9,27.9],[-12.6,28.3],[-6.8,34.9],[2.4,35.8],[6.9,37.1],[11.1,37.9],[-24.9,-15.7],[-19.8,-16.4],[-13.4,-17.2],[-8.1,-18.6],[-3.4,-13.1],[2.8,-11.6],[7.3,-10.9],[12.4,-8.2],[17.9,-7.4],[22.6,-10.8],[27.8,-5.2],[31.4,6.1],[33.9,13.8],[36.4,19.1],[28.1,25.9],[24.3,33.7],[21.2,39.5],[26.4,38.6],[30.8,34.7],[35.2,30.1],[39.6,24.3],[43.7,20.6],[-33.7,-3.4],[-36.4,6.8],[-38.9,-8.6],[-41.6,3.4],[-43.8,-5.1],[-46.2,8.1],[-31.2,13.7],[-35.1,-15.1],[-40.1,12.3],[-44.4,-11.2]
];

const allPoints = [
  ...ptsUpperLeft, ...ptsLowerLeft, ...ptsUpperMiddle, ...ptsLowerMiddle,
  ...ptsUpperRight, ...ptsLowerRight,
  ...coreWest, ...coreWestMid, ...coreCenter, ...coreEastMid, ...coreEast, ...coreDensest,
];

// ---------- layout (the reference picture is stretched horizontally) ----------
const W = 642;
const H = 513;
const STRETCH = 912 / W;
const sx = (px: number) => px / STRETCH;

const TEXT = "#1e2238";
const FONT = "'Liberation Sans', Arial, sans-serif";

export default function App() {
  const ref = useRef<HTMLDivElement>(null);

  useEffect(() => {
    document.body.style.margin = "0";
    document.body.style.overflow = "hidden";
    if (!ref.current) return;
    const chart = echarts.init(ref.current, null, { renderer: "svg" });

    const band = (x1: number, y1: number, x2: number, y2: number, fill: string) => ({
      type: "rect",
      z: 100,
      silent: true,
      shape: { x: sx(x1), y: y1, width: sx(x2) - sx(x1), height: y2 - y1 },
      style: { fill },
    });

    chart.setOption({
      animation: false,
      backgroundColor: "#ffffff",
      grid: {
        left: sx(106),
        right: W - sx(907.9),
        top: 10,
        bottom: H - 429.3,
        containLabel: false,
        outerBoundsMode: "none",
      },
      xAxis: {
        type: "value",
        min: xRange[0],
        max: xRange[1],
        axisLine: { show: true, onZero: false, lineStyle: { color: "#8c8c8c", width: 1.4 } },
        axisTick: { show: true, customValues: xTicks, length: 6, lineStyle: { color: "#555", width: 1.1 } },
        axisLabel: { customValues: xTicks, margin: 14, fontSize: 17, color: TEXT, fontFamily: FONT },
        splitLine: { show: true, lineStyle: { color: "#e7eff2", width: 1.3 } },
        name: xTitle,
        nameLocation: "middle",
        nameGap: 31,
        nameTextStyle: { fontSize: 19.5, color: TEXT, fontFamily: FONT },
      },
      yAxis: {
        type: "value",
        min: yRange[0],
        max: yRange[1],
        axisLine: { show: true, onZero: false, lineStyle: { color: "#8c8c8c", width: 1.6 } },
        axisTick: { show: true, customValues: yTicks, length: 6, lineStyle: { color: "#555", width: 1.1 } },
        axisLabel: { customValues: yTicks, rotate: 90, margin: 9, fontSize: 17, color: TEXT, fontFamily: FONT },
        splitLine: { show: true, lineStyle: { color: "#e7eff2", width: 1.5 } },
        name: yTitle,
        nameLocation: "middle",
        nameRotate: 90,
        nameGap: 28,
        nameTextStyle: { fontSize: 19.5, color: TEXT, fontFamily: FONT, padding: [0, 0, 0, 16] },
      },
      series: [
        {
          type: "scatter",
          data: allPoints,
          symbol: "circle",
          symbolSize: 4.2,
          itemStyle: { color: "#ff0000" },
          silent: true,
          z: 2,
        },
        {
          type: "line",
          data: fitLine,
          showSymbol: false,
          silent: true,
          lineStyle: { color: "#8a2a3a", width: 2.7 },
          z: 3,
        },
      ],
      graphic: [
        { type: "rect", z: 90, silent: true, shape: { x: 0, y: 511, width: W, height: 1.2 }, style: { fill: "#c8c8c8" } },
        // green annotation box
        band(-10, 88.3, 82.3, 98.3, "#00ff00"),
        band(71.7, 88.3, 82.3, 377, "#00ff00"),
        band(-10, 367.5, 82.3, 377, "#00ff00"),
        // orange annotation box
        band(144.3, 423.3, 879.3, 433.3, "#ffc000"),
        band(144.3, 423.3, 154.3, 515, "#ffc000"),
        band(869.3, 423.3, 879.3, 515, "#ffc000"),
        band(144.3, 505, 879.3, 515, "#ffc000"),
      ],
    });

    return () => chart.dispose();
  }, []);

  return (
    <div
      ref={ref}
      style={{
        width: W,
        height: H,
        transform: `scaleX(${STRETCH})`,
        transformOrigin: "0 0",
      }}
    />
  );
}
